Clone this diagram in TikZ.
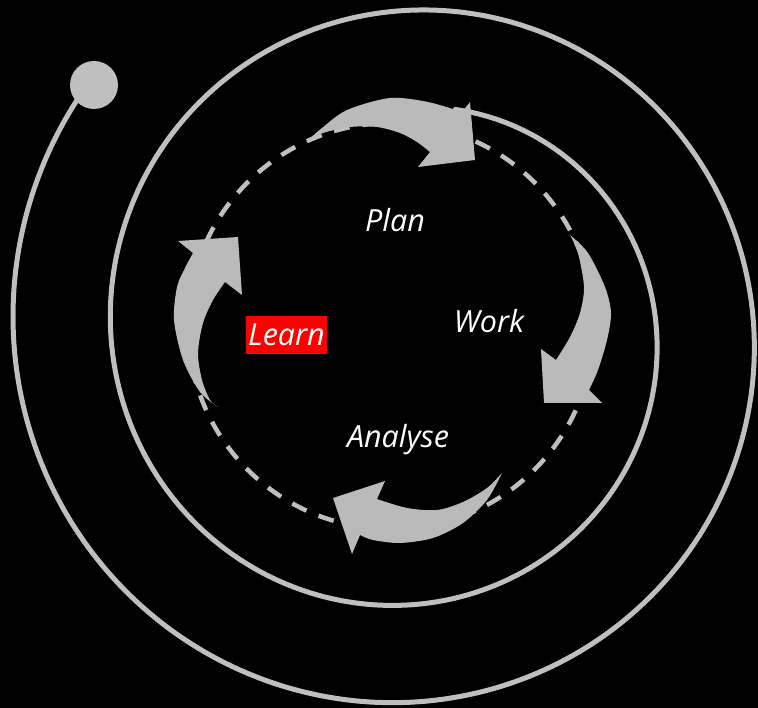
\documentclass[tikz,border=0pt]{standalone}
\usepackage{fontspec}
\setmainfont{Open Sans}
\usepackage{tikz}
\definecolor{ringgray}{RGB}{191,191,191}
\definecolor{arrowgray}{RGB}{186,186,186}
\definecolor{learnred}{RGB}{255,0,0}
\tikzset{
  cyclelabel/.style={text=white, anchor=base, inner sep=0pt,
    font=\fontsize{30.5}{36}\selectfont\itshape},
  ring/.style={draw=ringgray, line width=5pt, line cap=round},
  loopdash/.style={draw=ringgray, line width=4.5pt, dash pattern=on 16pt off 13pt},
  bentarrow/.style={fill=arrowgray}
}

\begin{document}
\begin{tikzpicture}[x=1pt,y=-1pt]
        \useasboundingbox (0,0) rectangle (758,708);
        \fill[black] (0,0) rectangle (758,708);

        \coordinate (S) at (408,332);
        \coordinate (C) at (391,326);
        \coordinate (D) at (94,85);

        % spiral, r shrinking with the angle
        \draw[ring] plot[domain=141:798,samples=240,smooth,variable=\t]
            ({408+(443.4-0.2705*\t)*cos(\t)},{332-(443.4-0.2705*\t)*sin(\t)});
        \fill[ringgray] (D) circle[radius=24];

        \draw[loopdash] (C) circle[radius=203];

        % top
        \fill[bentarrow] (306,142) -- plot[smooth] coordinates {(306,142) (322,128) (347,110) (390,98) (428,102) (462,112)}
            -- (470,102) -- (475,160) -- (418,167)
            -- plot[smooth] coordinates {(430,152) (417,142) (400,133) (377,127) (350,127) (323,133) (306,142)} -- cycle;
        % right
        \fill[bentarrow] (570,235) -- plot[smooth] coordinates {(570,235) (588,253) (605,287) (611,313) (607,340) (598,370) (589,390)}
            -- (602,403) -- (544,403) -- (541,349)
            -- plot[smooth] coordinates {(556,360) (570,337) (580,313) (584,287) (578,253) (570,235)} -- cycle;
        % bottom
        \fill[bentarrow] (502,473) -- plot[smooth] coordinates {(502,473) (487,500) (463,523) (433,538) (400,543) (373,540) (360,535)}
            -- (352,554) -- (333,498) -- (385,481)
            -- plot[smooth] coordinates {(377,499) (407,508) (437,510) (463,502) (487,488) (502,473)} -- cycle;
        % left
        \fill[bentarrow] (218,407) -- plot[smooth] coordinates {(218,407) (200,392) (183,360) (174,320) (177,287) (185,268) (193,253)}
            -- (178,241) -- (238,237) -- (242,295)
            -- plot[smooth] coordinates {(225,282) (213,300) (203,323) (198,353) (202,380) (210,400) (218,407)} -- cycle;

        \node[cyclelabel] (plan) at (395,232) {Plan};
        \node[cyclelabel] (work) at (489,333) {Work};
        \node[cyclelabel] (analyse) at (398,448) {Analyse};
        \node[cyclelabel, fill=learnred, text height=28pt, text depth=6pt, inner xsep=2pt, inner ysep=2pt] (learn) at (286.5,346) {Learn};

    \end{tikzpicture}
\end{document}
